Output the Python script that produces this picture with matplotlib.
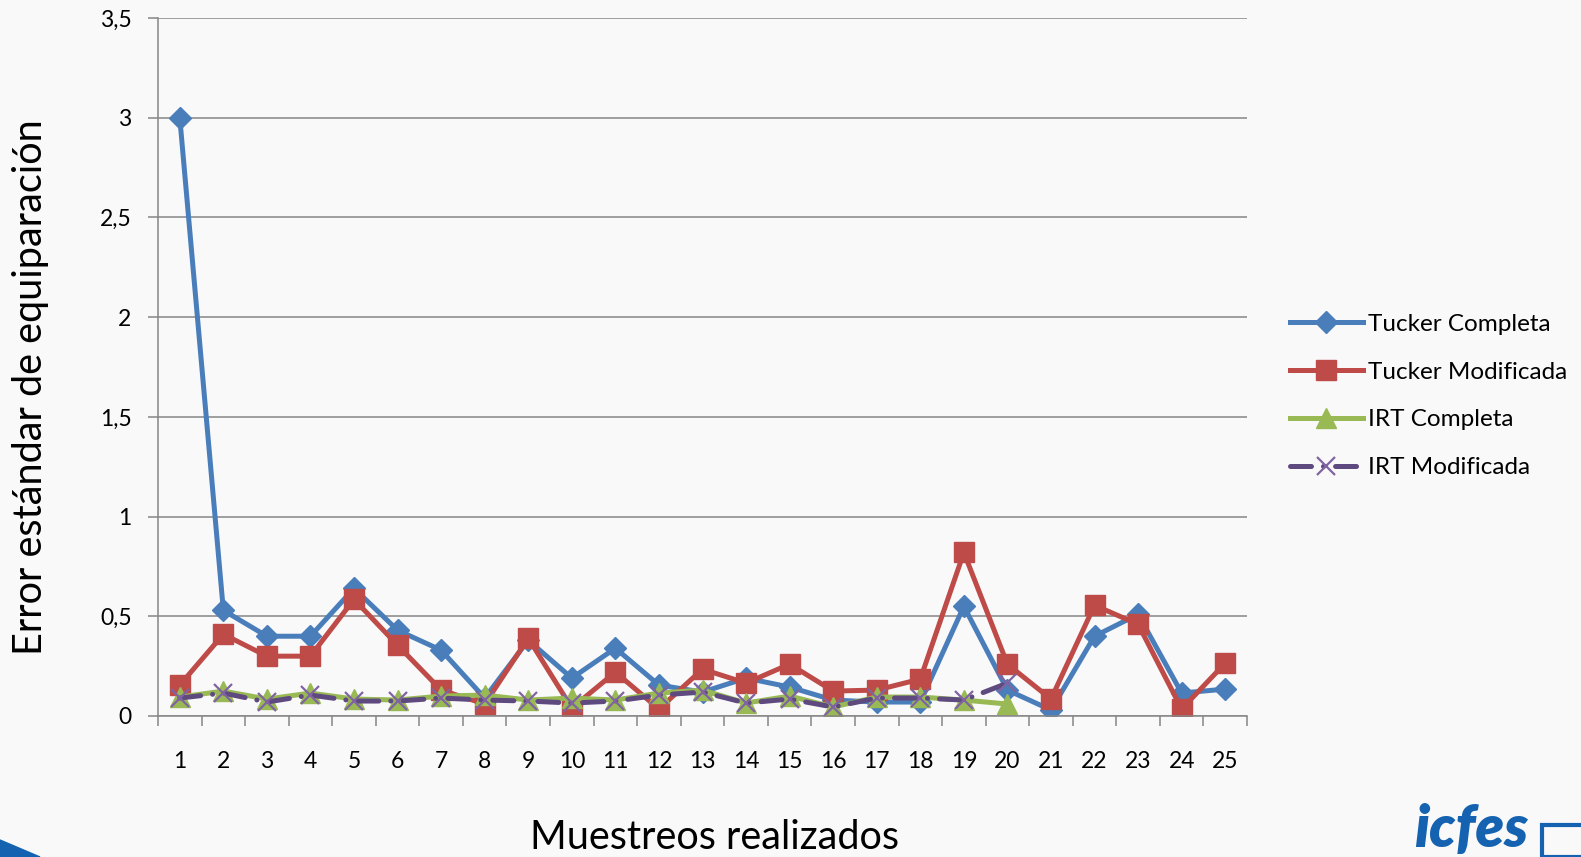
import matplotlib
matplotlib.use("Agg")
import matplotlib.pyplot as plt
from matplotlib.patches import Polygon, Rectangle

plt.rcParams['font.family'] = ['Lato', 'DejaVu Sans']

muestreos = list(range(1, 26))
tucker_completa = [3.0, 0.53, 0.40, 0.40, 0.64, 0.43, 0.33, 0.09, 0.38, 0.19,
                   0.34, 0.155, 0.12, 0.19, 0.145, 0.08, 0.07, 0.07, 0.55, 0.13,
                   0.03, 0.40, 0.51, 0.115, 0.135]
tucker_modificada = [0.155, 0.41, 0.30, 0.30, 0.585, 0.355, 0.13, 0.06, 0.39, 0.04,
                     0.22, 0.035, 0.235, 0.165, 0.26, 0.125, 0.13, 0.185, 0.82, 0.26,
                     0.085, 0.555, 0.46, 0.035, 0.265]
irt_completa = [0.095, 0.125, 0.085, 0.115, 0.085, 0.08, 0.10, 0.105, 0.08, 0.09,
                0.08, 0.115, 0.13, 0.065, 0.10, 0.045, 0.095, 0.095, 0.08, 0.06]
irt_modificada = [0.09, 0.115, 0.07, 0.105, 0.075, 0.075, 0.09, 0.08, 0.075, 0.065,
                  0.075, 0.105, 0.12, 0.065, 0.085, 0.045, 0.09, 0.09, 0.08, 0.165]
y_ticks = [0, 0.5, 1, 1.5, 2, 2.5, 3, 3.5]
y_labels = ["0", "0,5", "1", "1,5", "2", "2,5", "3", "3,5"]

W, H = 1581, 857
fig = plt.figure(figsize=(W / 100, H / 100), dpi=100, facecolor='#f9f9fa')
ax = fig.add_axes([158 / W, 1 - 716 / H, (1247 - 158) / W, (716 - 18) / H])
ax.set_facecolor('none')

grid_c = '#868686'
ax.plot(muestreos, tucker_completa, color='#4A7EBB', lw=3.6, marker='D', ms=11,
        label='Tucker Completa', solid_joinstyle='round')
ax.plot(muestreos, tucker_modificada, color='#BE4B48', lw=3.6, marker='s', ms=14,
        label='Tucker Modificada', solid_joinstyle='round')
ax.plot(muestreos[:20], irt_completa, color='#98B954', lw=3.6, marker='^', ms=14,
        label='IRT Completa', solid_joinstyle='round')
ax.plot(muestreos[:20], irt_modificada, color='#5F4A80', lw=3.6,
        dashes=(4.2, 2.4, 0.01, 2.4), dash_capstyle='round',
        marker='x', ms=13, mew=1.6, mec='#8064A2', label='IRT Modificada')

ax.set_xlim(0.5, 25.5)
ax.set_ylim(0, 3.5)
ax.set_yticks(y_ticks)
ax.set_yticklabels(y_labels)
ax.set_xticks([i + 0.5 for i in range(0, 26)])
ax.set_xticklabels([])
ax.set_xticks(muestreos, minor=True)
ax.set_xticklabels([str(m) for m in muestreos], minor=True)
ax.tick_params(axis='x', which='major', length=7, width=1.1, color=grid_c, direction='out')
ax.tick_params(axis='x', which='minor', length=0, pad=25.5, labelsize=16.5)
ax.tick_params(axis='y', length=7, width=1.1, color=grid_c, pad=12, labelsize=16.5)
ax.grid(axis='y', color=grid_c, lw=1.1)
ax.set_axisbelow(True)
for s in ['top', 'right']:
    ax.spines[s].set_visible(False)
for s in ['left', 'bottom']:
    ax.spines[s].set_color(grid_c)
    ax.spines[s].set_linewidth(1.1)

fig.text(30.5 / W, 1 - 387.5 / H, 'Error estándar de equiparación', rotation=90,
         ha='center', va='center', fontsize=28.5)
fig.text(715 / W, 8 / H, 'Muestreos realizados', ha='center', va='baseline', fontsize=28.5)

fig.legend(loc='upper left', bbox_to_anchor=(1268 / W, 1 - 292 / H), frameon=False,
           fontsize=17.5, handlelength=3.0, handletextpad=0.2, labelspacing=1.1)

# decoracion de la diapositiva
fig.patches.append(Polygon([[0, 17 / H], [40 / W, 0], [0, 0]], closed=True,
                           transform=fig.transFigure, color='#1462b0'))
fig.text(1414 / W, 1 / H, 'icfes', color='#1462b0', fontsize=42,
         fontweight='heavy', style='italic', ha='left', va='bottom')
fig.patches.append(Rectangle((1542 / W, 0), 60 / W, 32 / H, transform=fig.transFigure,
                             fill=False, ec='#1462b0', lw=3))

fig.savefig('out.png', dpi=100, facecolor=fig.get_facecolor())
